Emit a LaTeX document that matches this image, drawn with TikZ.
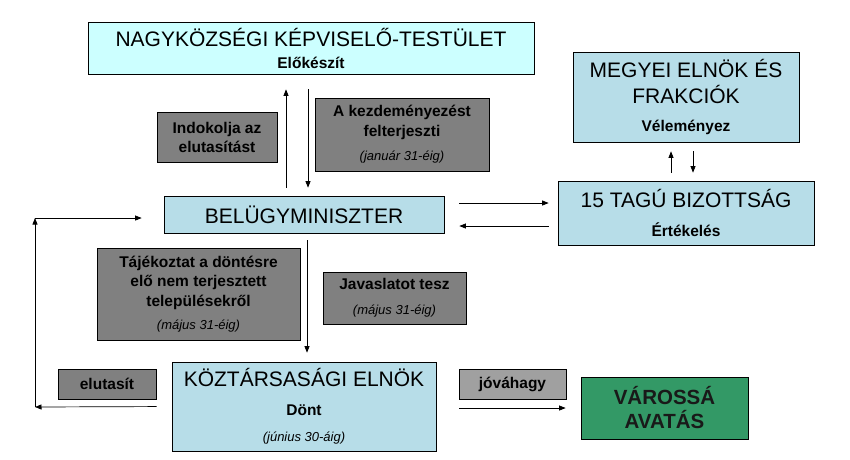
\documentclass[tikz,border=0pt]{standalone}
\usepackage{fontspec}
\setmainfont{Liberation Sans}
\usetikzlibrary{arrows.meta}
\definecolor{halvanykek}{HTML}{CCFFFF}
\definecolor{kekes}{HTML}{B7DDE8}
\definecolor{sotetszurke}{HTML}{808080}
\definecolor{vilagosszurke}{HTML}{A0A0A0}
\definecolor{zold}{HTML}{339966}
\newcommand{\nagybetu}{\fontsize{21}{25}\selectfont}
\newcommand{\kisbetu}{\fontsize{15.5}{19}\selectfont\bfseries}
\newcommand{\datum}{\fontsize{13}{16}\selectfont\mdseries\itshape}
\begin{document}
\begin{tikzpicture}[x=1pt,y=-1pt]
					\tikzstyle{doboz}=[rectangle,draw=black,line width=0.7pt,align=center,inner sep=0pt]
					\tikzstyle{kekdoboz}=[doboz,fill=kekes,font=\nagybetu]
					\tikzstyle{szurkedoboz}=[doboz,fill=sotetszurke,font=\kisbetu]
					\tikzstyle{nyil}=[-{Triangle[length=6.5pt,width=5pt]},line width=0.7pt]
					\useasboundingbox[fill=white] (0,0) rectangle (850,459);
					\node[kekdoboz,fill=halvanykek,minimum width=446pt,minimum height=52pt] (testulet) at (311,48) {NAGYKÖZSÉGI KÉPVISELŐ-TESTÜLET\\[-3pt]\kisbetu Előkészít};
					\node[szurkedoboz,minimum width=120pt,minimum height=50pt] (indokolja) at (217,137) {Indokolja az\\elutasítást};
					\node[szurkedoboz,minimum width=174pt,minimum height=73pt] (felterjeszt) at (402,134.5) {A kezdeményezést\\[1pt]felterjeszti\\[5pt]\datum (január 31-éig)};
					\node[kekdoboz,minimum width=280pt,minimum height=37pt] (belugy) at (304,214.5) {BELÜGYMINISZTER};
					\node[kekdoboz,minimum width=226pt,minimum height=90pt] (megyei) at (686,97) {MEGYEI ELNÖK ÉS\\[1pt]FRAKCIÓK\\[3pt]\kisbetu Véleményez};
					\node[kekdoboz,minimum width=256pt,minimum height=64pt] (bizottsag) at (686,213) {15 TAGÚ BIZOTTSÁG\\[4pt]\kisbetu Értékelés};
					\node[szurkedoboz,minimum width=203pt,minimum height=92pt] (tajekoztat) at (198.5,294) {Tájékoztat a döntésre\\elő nem terjesztett\\[1pt]településekről\\[4pt]\datum (május 31-éig)};
					\node[szurkedoboz,minimum width=143pt,minimum height=52pt] (javaslat) at (394.5,298) {Javaslatot tesz\\[6pt]\datum (május 31-éig)};
					\node[kekdoboz,minimum width=264pt,minimum height=89pt] (elnok) at (304,406.5) {KÖZTÁRSASÁGI ELNÖK\\[4pt]\kisbetu Dönt\\[1pt]\datum (június 30-áig)};
					\node[szurkedoboz,minimum width=98pt,minimum height=30pt] (elutasit) at (107,384) {elutasít};
					\node[szurkedoboz,fill=vilagosszurke,minimum width=107pt,minimum height=30pt] (jovahagy) at (512.5,384) {jóváhagy};
					\node[doboz,fill=zold,text=black!90,font=\fontsize{20.5}{24}\selectfont\bfseries,minimum width=167pt,minimum height=62pt] (varossa) at (664.5,408) {VÁROSSÁ\\AVATÁS};
					\coordinate (sarok1) at (35,407);
					\coordinate (sarok2) at (35,218);
					\draw[nyil,shorten <=8pt,shorten >=15pt] ([xshift=-18pt]belugy.north) -- ([xshift=-18pt]belugy.north |- testulet.south);
					\draw[nyil,shorten <=15pt,shorten >=8pt] ([xshift=4pt]belugy.north |- testulet.south) -- ([xshift=4pt]belugy.north);
					\draw[nyil,shorten <=15pt,shorten >=9pt] ([yshift=11.5pt]belugy.east) -- ([yshift=11.5pt]belugy.east -| bizottsag.west);
					\draw[nyil,shorten <=9pt,shorten >=15pt] ([yshift=-11.5pt]belugy.east -| bizottsag.west) -- ([yshift=-11.5pt]belugy.east);
					\draw[nyil,shorten <=8pt,shorten >=9pt] ([xshift=-15pt]bizottsag.north) -- ([xshift=-15pt]bizottsag.north |- megyei.south);
					\draw[nyil,shorten <=9pt,shorten >=8pt] ([xshift=7pt]bizottsag.north |- megyei.south) -- ([xshift=7pt]bizottsag.north);
					\draw[nyil,shorten <=7pt,shorten >=9pt] ([xshift=3pt]belugy.south) -- ([xshift=3pt]belugy.south |- elnok.north);
					\draw[nyil,shorten <=15pt] (elnok.west) -- (sarok1);
					\draw[nyil] (sarok1) -- (sarok2);
					\draw[nyil,shorten >=22pt] (sarok2) -- (sarok2 -| belugy.west);
					\draw[nyil,shorten <=23pt,shorten >=15pt] ([yshift=-1.5pt]elnok.east) -- ([yshift=-1.5pt]elnok.east -| varossa.west);
					\end{tikzpicture}
\end{document}
